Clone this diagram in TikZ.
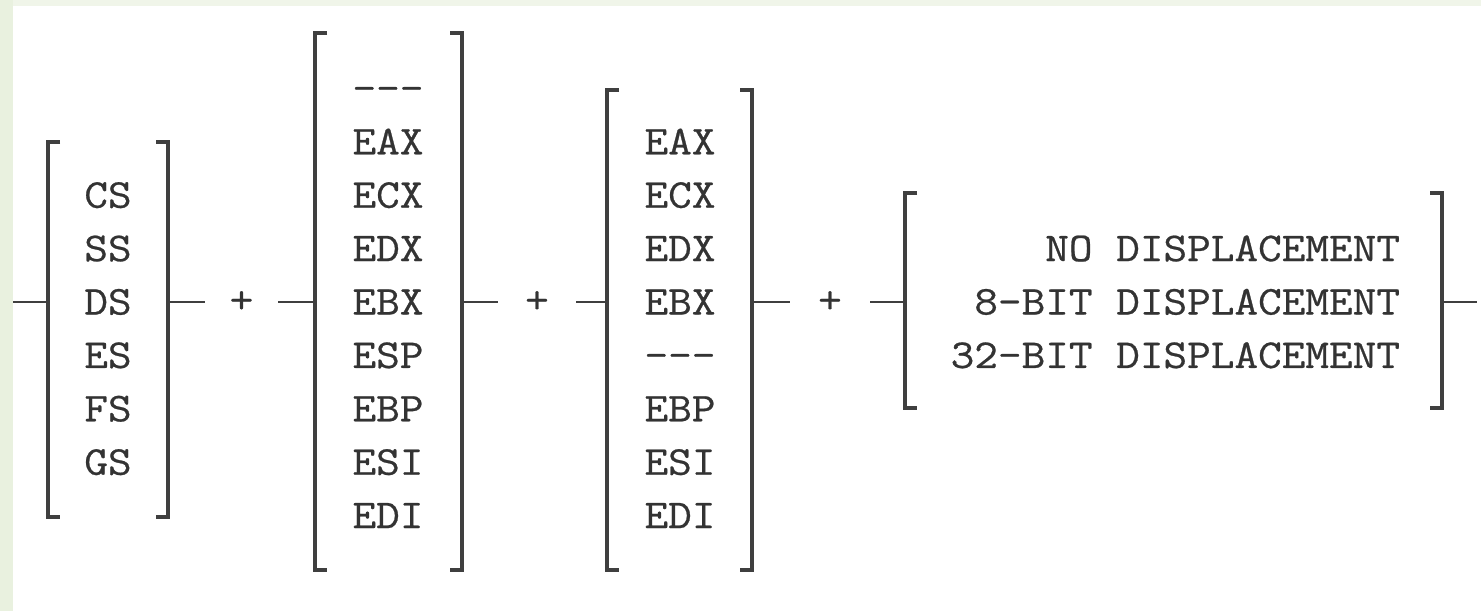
\documentclass[tikz,border=0pt]{standalone}
\usepackage{fontspec}
\setmonofont[FakeStretch=1.12, FakeBold=0.6]{Latin Modern Mono}
\definecolor{stripgreen}{HTML}{E9F1DF}
\definecolor{inkgray}{HTML}{333333}
\definecolor{brackgray}{HTML}{3F3F3F}
\tikzset{
  frame/.style={inner sep=0pt, outer sep=0pt, minimum width=#1},
  reg/.style={inner sep=0pt, outer sep=0pt, anchor=base, text=inkgray,
    font=\ttfamily\fontsize{41}{41}\selectfont},
  regright/.style={reg, anchor=base east},
  plus/.style={reg, anchor=center, minimum width=#1},
  brk/.style={draw=brackgray, line width=3.2pt},
  wire/.style={draw=brackgray, line width=2.6pt}
}
% square brackets drawn on the left and right edges of a frame node
\newcommand\sqbrackets[1]{%
  \draw[brk] ([xshift=12pt]#1.north west) -- (#1.north west) -- (#1.south west) -- ([xshift=12pt]#1.south west);
  \draw[brk] ([xshift=-12pt]#1.north east) -- (#1.north east) -- (#1.south east) -- ([xshift=-12pt]#1.south east);}
\begin{document}
\begin{tikzpicture}[x=1pt, y=-1pt]
  \useasboundingbox (0,0) rectangle (1481,611);
  \fill[white] (0,0) rectangle (1481,611);
  \fill[stripgreen] (0,0) rectangle (13,611);
  \fill[stripgreen!70] (13,0) rectangle (1481,6);

  % bracket frames
  \node[frame=120, minimum height=375] (b1) at (108,329.5) {};
  \node[frame=147, minimum height=537] (b2) at (388.5,301.5) {};
  \node[frame=145, minimum height=480] (b3) at (679.5,330) {};
  \node[frame=537, minimum height=215] (b4) at (1173.5,300.5) {};
  \sqbrackets{b1}
  \sqbrackets{b2}
  \sqbrackets{b3}
  \sqbrackets{b4}

  % segment registers
  \foreach \t [count=\i] in {CS,SS,DS,ES,FS,GS}
    \node[reg] (seg-\i) at (108, {302+53.4*(\i-3)+12.5}) {\t};
  % base registers
  \foreach \t [count=\i] in {---,EAX,ECX,EDX,EBX,ESP,EBP,ESI,EDI}
    \node[reg] (base-\i) at (388, {302+53.4*(\i-5)+12.5}) {\t};
  % index registers
  \foreach \t [count=\i] in {EAX,ECX,EDX,EBX,---,EBP,ESI,EDI}
    \node[reg] (idx-\i) at (680, {302+53.4*(\i-4)+12.5}) {\t};
  % displacement choices
  \foreach \t [count=\i] in {NO DISPLACEMENT,8-BIT DISPLACEMENT,32-BIT DISPLACEMENT}
    \node[regright] (disp-\i) at (1400, {302+53.4*(\i-2)+12.5}) {\t};

  % plus signs between the groups
  \node[plus=73] (p1) at (241.5,302) {+};
  \node[plus=78] (p2) at (537,302) {+};
  \node[plus=80] (p3) at (830,302) {+};

  % wires
  \coordinate (start) at (13,302);
  \coordinate (finish) at (1477,302);
  \draw[wire] (start) -- (start -| b1.west);
  \draw[wire] (b1.east |- p1) -- (p1.west);
  \draw[wire] (p1.east) -- (b2.west |- p1);
  \draw[wire] (b2.east |- p2) -- (p2.west);
  \draw[wire] (p2.east) -- (b3.west |- p2);
  \draw[wire] (b3.east |- p3) -- (p3.west);
  \draw[wire] (p3.east) -- (b4.west |- p3);
  \draw[wire] (b4.east |- finish) -- (finish);
\end{tikzpicture}
\end{document}
